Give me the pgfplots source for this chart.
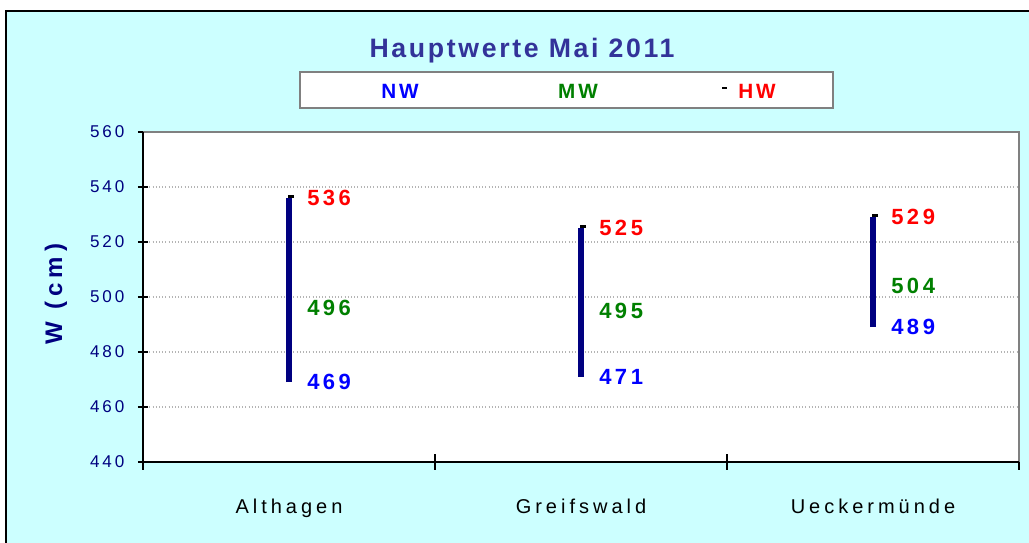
\documentclass[border=0pt]{standalone}
\usepackage{pgfplots}
\pgfplotsset{compat=1.18}
\usepackage{fontspec}
\setmainfont{Liberation Sans}
\newfontfamily\tickfont[LetterSpace=17]{Liberation Sans}
\newfontfamily\catfont[LetterSpace=20]{Liberation Sans}
\newfontfamily\valfont[LetterSpace=16]{Liberation Sans}
\newfontfamily\legfont[LetterSpace=14]{Liberation Sans}
\newfontfamily\titfont[LetterSpace=10]{Liberation Sans}
\newfontfamily\ylfont[LetterSpace=21]{Liberation Sans}
\definecolor{bg}{HTML}{CCFFFF}
\definecolor{navy}{HTML}{000080}
\definecolor{titlec}{HTML}{333399}
\definecolor{mwgreen}{HTML}{008000}
\definecolor{nwblue}{HTML}{0000FF}
\definecolor{hwred}{HTML}{FF0000}
\definecolor{gridc}{HTML}{B4B4B4}
\definecolor{bord}{HTML}{808080}
\begin{document}
\begin{tikzpicture}[x=0.75pt,y=0.75pt]
\clip (0,0) rectangle (1029,543);
\fill[white] (0,0) rectangle (1029,543);
\filldraw[fill=bg, draw=black, line width=1.5pt] (6,-10) rectangle (1040,532);
% title
\node[font=\titfont\bfseries\fontsize{20}{22}\selectfont, text=titlec, inner sep=0pt] at (522,492) {Hauptwerte Mai 2011};
% legend
\filldraw[fill=white, draw=bord, line width=1.5pt] (300,435) rectangle (833,471);
\node[font=\legfont\bfseries\fontsize{15.5}{17}\selectfont, text=nwblue, inner sep=0pt] at (400,452) {NW};
\node[font=\legfont\bfseries\fontsize{15.5}{17}\selectfont, text=mwgreen, inner sep=0pt] at (578,452) {MW};
\node[font=\legfont\bfseries\fontsize{15.5}{17}\selectfont, text=hwred, inner sep=0pt] at (757,452) {HW};
\draw[black, line width=2pt] (722,455) -- (727,455);
% y label
\node[font=\ylfont\bfseries\fontsize{18}{20}\selectfont, text=navy, rotate=90, inner sep=0pt] at (56,249) {W (cm)};
\begin{axis}[
  at={(107.25pt,60.75pt)}, anchor=south west,
  width=657pt, height=247.5pt, scale only axis,
  xmin=0.5, xmax=3.5, ymin=440, ymax=560,
  axis background/.style={fill=white},
  axis line style={draw=none},
  xtick={1,2,3},
  xticklabels={Althagen,Greifswald,Ueckermünde},
  minor xtick={0.5,1.5,2.5,3.5},
  major x tick style={draw=none},
  xticklabel style={font=\catfont\fontsize{15}{16}\selectfont, text=black, inner sep=0pt, anchor=north, yshift=-24pt},
  ytick={440,460,...,560},
  tick pos=left,
  tick align=center,
  major tick length=7.5pt,
  minor tick length=12pt,
  tick style={black, line width=1.2pt},
  yticklabel style={font=\tickfont\fontsize{12.8}{14}\selectfont, text=navy, inner sep=0pt, anchor=east, xshift=-10pt},
  /pgf/number format/assume math mode=true,
  ymajorgrids,
  major grid style={gridc, dotted, line width=0.8pt},
  clip=false,
]
\addplot[navy, line width=4.2pt] coordinates {(1,469) (1,536)};
\addplot[navy, line width=4.2pt] coordinates {(2,471) (2,525)};
\addplot[navy, line width=4.2pt] coordinates {(3,489) (3,529)};
\addplot[only marks, mark=-, black, mark size=2.25pt, line width=2pt, mark options={xshift=1.5pt, yshift=1.2pt}] coordinates {(1,536) (2,525) (3,529)};
\addplot[only marks, mark=none, nodes near coords, point meta=explicit symbolic,
  every node near coord/.append style={anchor=west, inner sep=0pt, xshift=13.5pt, font=\valfont\bfseries\fontsize{16.5}{18}\selectfont, text=hwred}]
  coordinates {(1,536)[536] (2,525)[525] (3,529)[529]};
\addplot[only marks, mark=none, nodes near coords, point meta=explicit symbolic,
  every node near coord/.append style={anchor=west, inner sep=0pt, xshift=13.5pt, font=\valfont\bfseries\fontsize{16.5}{18}\selectfont, text=mwgreen}]
  coordinates {(1,496)[496] (2,495)[495] (3,504)[504]};
\addplot[only marks, mark=none, nodes near coords, point meta=explicit symbolic,
  every node near coord/.append style={anchor=west, inner sep=0pt, xshift=13.5pt, font=\valfont\bfseries\fontsize{16.5}{18}\selectfont, text=nwblue}]
  coordinates {(1,469)[469] (2,471)[471] (3,489)[489]};
\draw[bord, line width=1.5pt] (rel axis cs:0,1) -- (rel axis cs:1,1) -- (rel axis cs:1,0);
\draw[black, line width=1.5pt] (rel axis cs:0,1) -- (rel axis cs:0,0) -- (rel axis cs:1,0);
\end{axis}
\end{tikzpicture}
\end{document}
